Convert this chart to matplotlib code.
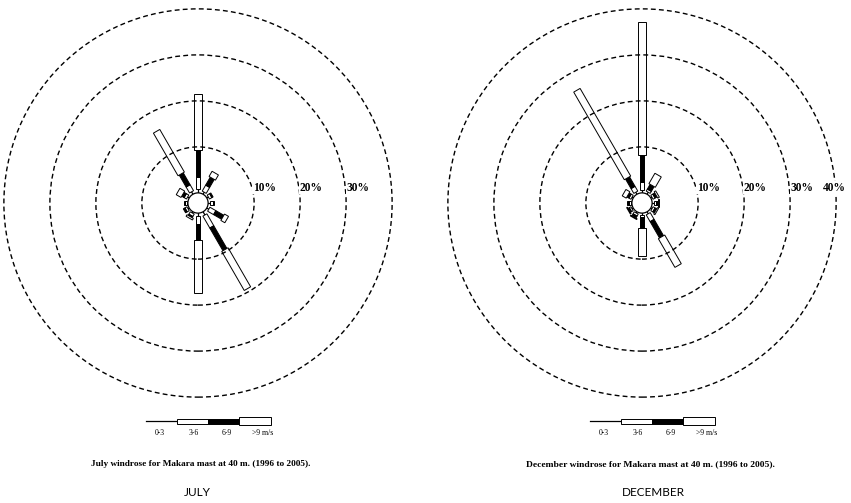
import numpy as np
import matplotlib
matplotlib.use('Agg')
import matplotlib.pyplot as plt
from matplotlib.patches import Circle, Polygon

# wind direction sectors (degrees clockwise from north)
directions = np.arange(0, 360, 30)
speed_labels = ['0-3', '3-6', '6-9', '>9 m/s']
ring_pct = [10, 20, 30, 40]

# frequency (%) per speed class, one value per sector
july_0_3 = [0.8, 0.5, 0.4, 0.4, 0.5, 0.8, 0.6, 0.3, 0.3, 0.3, 0.4, 0.6]
july_3_6 = [2.7, 1.5, 0.6, 0.6, 1.5, 3.0, 1.8, 0.6, 0.5, 0.4, 0.6, 1.5]
july_6_9 = [5.8, 2.0, 0.3, 0.3, 2.0, 5.7, 3.5, 0.3, 0.4, 0.2, 0.6, 3.0]
july_9up = [12.2, 1.3, 0.0, 0.0, 1.0, 9.8, 11.5, 0.4, 0.0, 0.0, 1.2, 10.7]

dec_0_3 = [0.6, 0.5, 0.3, 0.3, 0.3, 0.5, 0.3, 0.3, 0.3, 0.3, 0.3, 0.5]
dec_3_6 = [1.8, 0.5, 0.5, 0.5, 0.5, 1.7, 0.5, 0.5, 0.4, 0.4, 0.5, 1.2]
dec_6_9 = [5.9, 1.2, 0.5, 0.4, 0.4, 4.1, 2.5, 0.5, 0.3, 0.3, 0.5, 2.4]
dec_9up = [28.9, 2.6, 0.4, 0.3, 0.3, 7.2, 6.0, 0.2, 0.2, 0.0, 1.0, 22.0]

R0 = 2.2      # calm circle radius, in percent units
PX = 4.6      # pixels per percent
LIM = 44.0
W_BOX36, W_BLACK, W_BOX9 = 1.0, 1.0, 1.6

fig = plt.figure(figsize=(8.51, 5.03), dpi=100)


def rect(ax, ang, r1, r2, w, face, origin=(0.0, 0.0), clip=True):
    a = np.deg2rad(ang)
    u = np.array([np.sin(a), np.cos(a)])
    n = np.array([np.cos(a), -np.sin(a)])
    o = np.array(origin)
    pts = [o + u * r1 + n * w / 2, o + u * r2 + n * w / 2,
           o + u * r2 - n * w / 2, o + u * r1 - n * w / 2]
    p = Polygon(pts, closed=True, facecolor=face, edgecolor='black',
                lw=0.7, zorder=2)
    p.set_clip_on(clip)
    ax.add_patch(p)


def windrose(cx, cy, c03, c36, c69, c9, labels):
    size = 2 * LIM * PX
    ax = fig.add_axes([(cx - size / 2) / 851, (503 - cy - size / 2) / 503,
                       size / 851, size / 503])
    ax.set_xlim(-LIM, LIM)
    ax.set_ylim(-LIM, LIM)
    ax.set_aspect('equal')
    ax.axis('off')

    for pct in ring_pct:
        ax.add_patch(Circle((0, 0), R0 + pct, fill=False, ec='black', lw=1.0,
                            ls=(0, (3.5, 2.3)), zorder=3))
    # ring labels sit just right of each ring, kept inside the figure
    xmax = (851 - 4 - cx) / PX - 5.2
    for pct in labels:
        r = R0 + pct
        lx = min(np.sqrt(r ** 2 - 3.3 ** 2) + 0.2, xmax)
        ax.text(lx, 3.3, f'{pct}%', ha='left', va='center', fontsize=8.3,
                family='Liberation Serif', fontweight='bold', clip_on=False,
                zorder=5,
                bbox=dict(boxstyle='square,pad=0.05', fc='white', ec='none'))

    for d, a, b, c, e in zip(directions, c03, c36, c69, c9):
        s1 = R0 + a
        s2 = s1 + b
        s3 = s2 + c
        s4 = s3 + e
        t = np.deg2rad(d)
        ax.plot([R0 * np.sin(t), s1 * np.sin(t)], [R0 * np.cos(t), s1 * np.cos(t)],
                color='black', lw=0.9, zorder=2)
        if b > 0:
            rect(ax, d, s1, s2, W_BOX36, 'white')
        if c > 0:
            rect(ax, d, s2, s3, W_BLACK, 'black')
        if e > 0:
            rect(ax, d, s3, s4, W_BOX9, 'white')

    ax.add_patch(Circle((0, 0), R0, fc='white', ec='black', lw=0.9, zorder=4))

    # speed class key below the rose
    ky = -47.4
    x0, step = -11.4, 6.8
    ax.plot([x0, x0 + step], [ky, ky], color='black', lw=0.9, clip_on=False)
    key = (x0, ky)
    rect(ax, 90, step, 2 * step, W_BOX36 * 1.1, 'white', key, clip=False)
    rect(ax, 90, 2 * step, 3 * step, W_BLACK * 1.1, 'black', key, clip=False)
    rect(ax, 90, 3 * step, 4 * step, W_BOX9 * 1.2, 'white', key, clip=False)
    for lx, lab in zip([-8.2, -1.0, 6.2, 14.0], speed_labels):
        ax.text(lx, -50.0, lab, ha='center', va='center', fontsize=5.5,
                family='Liberation Serif', clip_on=False)
    return ax


windrose(198, 203, july_0_3, july_3_6, july_6_9, july_9up, [10, 20, 30])
windrose(642, 203, dec_0_3, dec_3_6, dec_6_9, dec_9up, [10, 20, 30, 40])

fig.text(201 / 851, 1 - 464 / 503,
         'July windrose for Makara mast at 40 m. (1996 to 2005).',
         ha='center', va='center', fontsize=6.7, family='Liberation Serif',
         fontweight='bold')
fig.text(650 / 851, 1 - 464 / 503,
         'December windrose for Makara mast at 40 m. (1996 to 2005).',
         ha='center', va='center', fontsize=6.8, family='Liberation Serif',
         fontweight='bold')
fig.text(197 / 851, 1 - 493 / 503, 'JULY', ha='center', va='center',
         fontsize=8.5, family='Lato')
fig.text(653 / 851, 1 - 493 / 503, 'DECEMBER', ha='center', va='center',
         fontsize=8.5, family='Lato')

fig.savefig('out.png', dpi=100, facecolor='white')
